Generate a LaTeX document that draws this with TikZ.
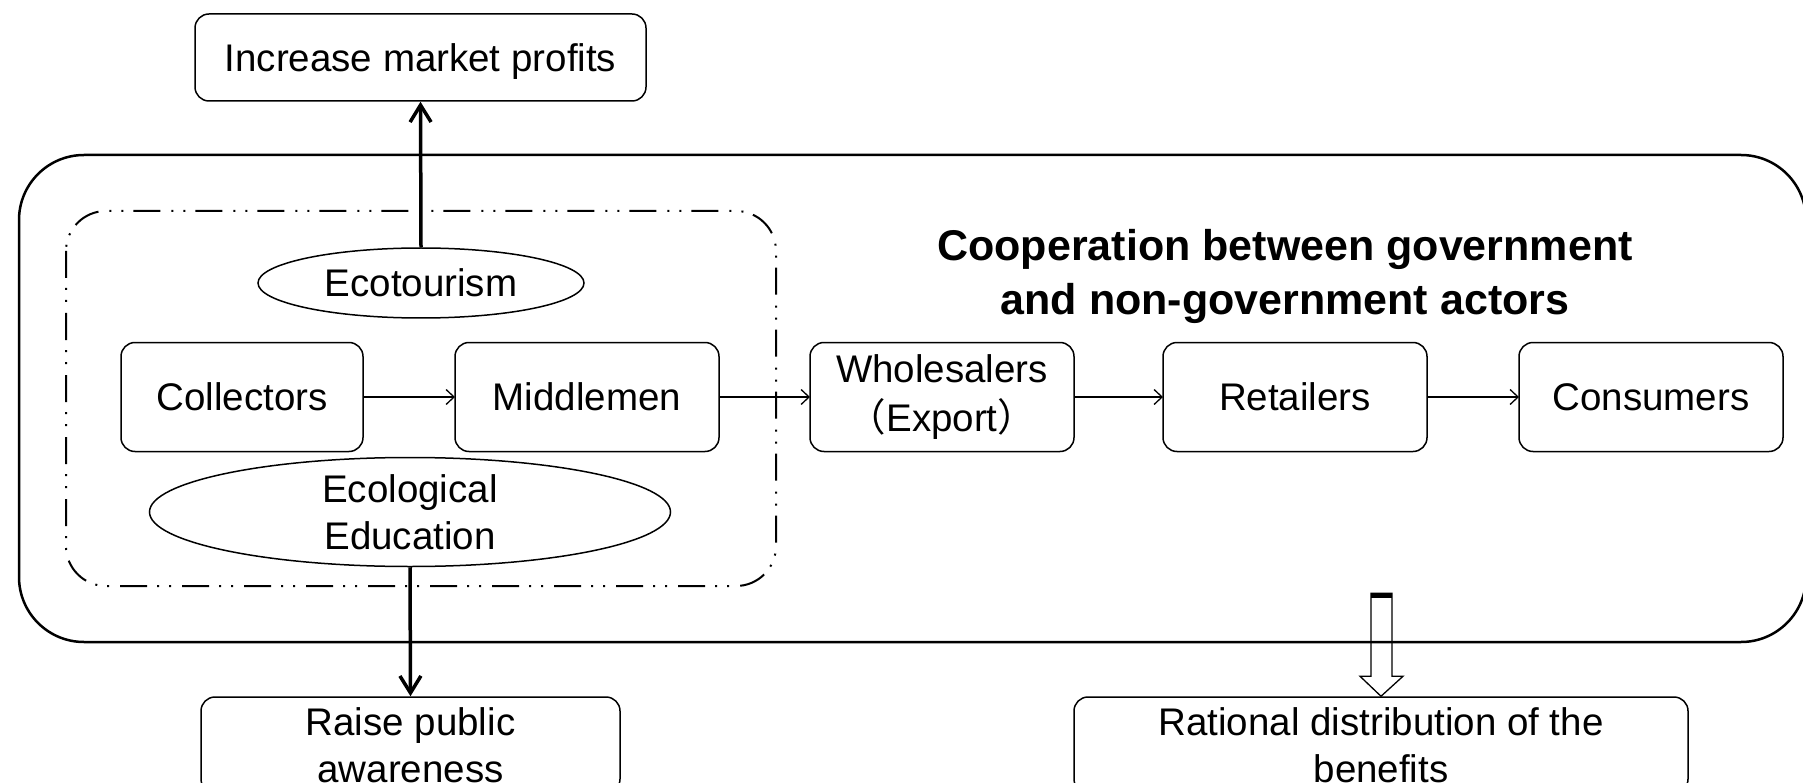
\documentclass[tikz,border=0pt]{standalone}
\usepackage{fontspec}
\setmainfont{Liberation Sans}
\newfontfamily\cjkfont{Noto Sans CJK SC}
\usetikzlibrary{arrows.meta,positioning,calc,shapes.geometric}
\newcommand{\boxfont}{\fontsize{38.5pt}{47pt}\selectfont}
\newcommand{\headfont}{\fontsize{43pt}{54pt}\selectfont\bfseries}

\begin{document}
\begin{tikzpicture}[x=1pt, y=-1pt, node distance=91pt,
  every node/.style={font=\boxfont},
  stage/.style={draw, rounded corners=14pt, line width=1.5pt, minimum width=264pt, minimum height=109pt, align=center, inner sep=0pt, outer sep=0pt},
  outcome/.style={draw, rounded corners=14pt, line width=1.5pt, align=center, inner sep=0pt},
  activity/.style={draw, ellipse, line width=1.5pt, align=center, inner sep=0pt},
  flow/.style={-{Straight Barb[length=8pt,width=15pt]}, line width=1.3pt},
  impact/.style={-{Straight Barb[length=17pt,width=21pt]}, line width=3.5pt}]
  \useasboundingbox (0,0) rectangle (1803,783);
  % frames
  \draw[line width=2.5pt, rounded corners=65pt] (19,155) rectangle (1806,642);
  \draw[line width=2pt, dash pattern=on 27pt off 10pt on 2pt off 10pt on 2pt off 11pt, rounded corners=40pt] (66,211) rectangle (776,586);
  % supply chain
  \node[stage, minimum width=242pt] (collectors) at (242,397) {Collectors};
  \node[stage, right=92pt of collectors] (middlemen) {Middlemen};
  \node[stage, right=of middlemen, font=\fontsize{38.5pt}{49pt}\selectfont] (wholesalers) {Wholesalers\\{\cjkfont （}Export{\cjkfont ）}};
  \node[stage, right=89pt of wholesalers] (retailers) {Retailers};
  \node[stage, right=92pt of retailers] (consumers) {Consumers};
  \node[activity, minimum width=326pt, minimum height=70pt] (ecotourism) at (421,283) {Ecotourism};
  \node[activity, minimum width=521pt, minimum height=109pt] (ecoedu) at (410,512) {Ecological\\Education};
  \node[font=\headfont, align=center] (coop) at (1285,276) {Cooperation between government\\and non-government actors};
  % outcomes
  \node[outcome, minimum width=451pt, minimum height=87pt, text depth=0pt] (profits) at (420.5,57.5) {Increase market profits};
  \node[outcome, minimum width=419pt, minimum height=96pt] (awareness) at (410.5,745) {Raise public\\awareness};
  \node[outcome, minimum width=614pt, minimum height=96pt] (benefits) at (1381,745) {Rational distribution of the\\benefits};
  \draw[flow] (collectors) -- (middlemen);
  \draw[flow] (middlemen) -- (wholesalers);
  \draw[flow] (wholesalers) -- (retailers);
  \draw[flow] (retailers) -- (consumers);
  \draw[impact] (ecotourism.north) -- (profits.south);
  \draw[impact] (ecoedu.south) -- (awareness.north);
  % hollow arrow
  \draw[line width=1.3pt] ($(benefits.north)+(-10,-103)$) -- ($(benefits.north)+(-10,-20)$) -- ($(benefits.north)+(-21,-20)$) -- (benefits.north) -- ($(benefits.north)+(22,-20)$) -- ($(benefits.north)+(11,-20)$) -- ($(benefits.north)+(11,-103)$) -- cycle;
  \fill ($(benefits.north)+(-10,-103)$) rectangle ($(benefits.north)+(11,-98)$);
\end{tikzpicture}
\end{document}
